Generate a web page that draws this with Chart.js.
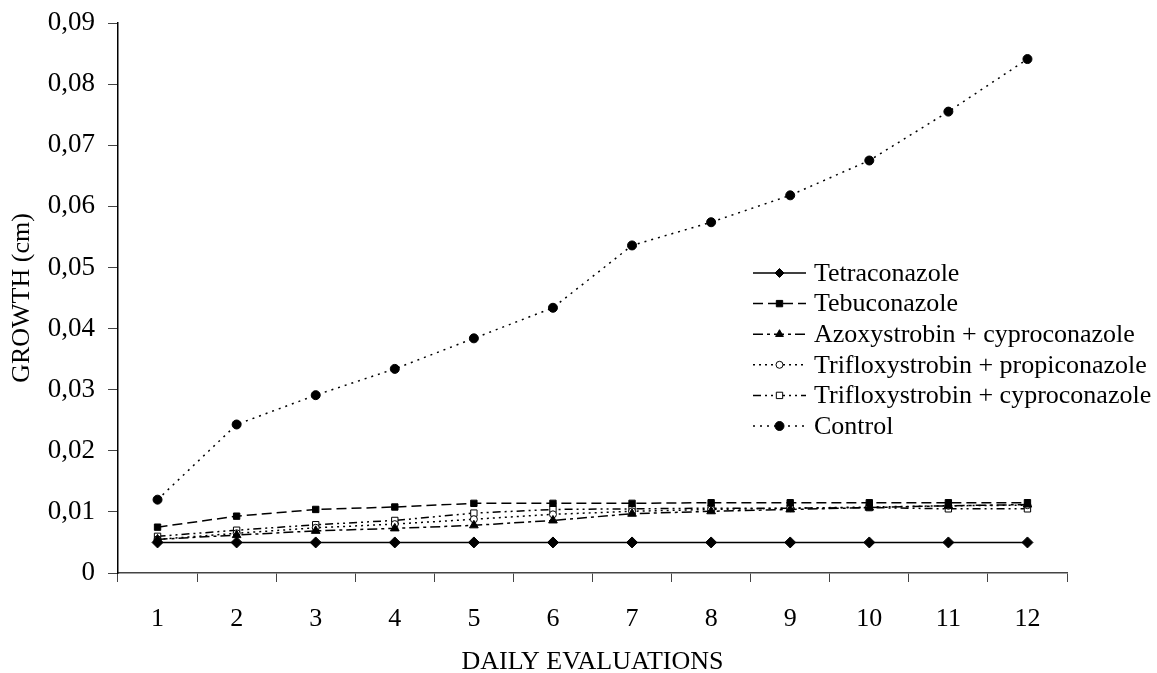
<!DOCTYPE html>
<html>
<head>
<meta charset="utf-8">
<script src="https://cdn.jsdelivr.net/npm/chart.js@4/dist/chart.umd.min.js"></script>
<style>
  html, body { margin: 0; padding: 0; background: #fff; }
  #wrap { width: 1157px; height: 673px; position: relative; }
</style>
</head>
<body>
<div id="wrap"><canvas id="growthChart"></canvas></div>
<script>
// Data
const days = ['1', '2', '3', '4', '5', '6', '7', '8', '9', '10', '11', '12'];
const seriesNames = [
  'Tetraconazole',
  'Tebuconazole',
  'Azoxystrobin + cyproconazole',
  'Trifloxystrobin + propiconazole',
  'Trifloxystrobin + cyproconazole',
  'Control'
];
const tetraconazole = [0.005, 0.005, 0.005, 0.005, 0.005, 0.005, 0.005, 0.005, 0.005, 0.005, 0.005, 0.005];
const tebuconazole = [0.0075, 0.0093, 0.0104, 0.0108, 0.0114, 0.0114, 0.0114, 0.0115, 0.0115, 0.0115, 0.0115, 0.0115];
const azoxyCypro = [0.0055, 0.0062, 0.0069, 0.0073, 0.0078, 0.0086, 0.0097, 0.0101, 0.0104, 0.0107, 0.0110, 0.0112];
const trifloxyPropi = [0.0055, 0.0065, 0.0074, 0.0080, 0.0088, 0.0096, 0.0101, 0.0104, 0.0106, 0.0108, 0.0110, 0.0111];
const trifloxyCypro = [0.0060, 0.0070, 0.0079, 0.0086, 0.0098, 0.0104, 0.0105, 0.0106, 0.0106, 0.0107, 0.0105, 0.0105];
const control = [0.0120, 0.0243, 0.0291, 0.0334, 0.0384, 0.0434, 0.0536, 0.0574, 0.0618, 0.0675, 0.0755, 0.0841];
const yTicks = [0, 0.01, 0.02, 0.03, 0.04, 0.05, 0.06, 0.07, 0.08, 0.09];

const FONT = '"Liberation Serif", "Times New Roman", serif';

function makeSet(label, data, dash, style, radius, filled) {
  return {
    label: label,
    data: data,
    borderColor: '#000',
    borderWidth: 1.5,
    borderDash: dash,
    pointStyle: style,
    pointRadius: radius,
    pointBorderColor: '#000',
    pointBorderWidth: 1,
    pointBackgroundColor: filled ? '#000' : '#fff',
    tension: 0,
    fill: false
  };
}

const datasets = [
  makeSet(seriesNames[0], tetraconazole, [], 'rectRot', 5.5, true),
  makeSet(seriesNames[1], tebuconazole, [10, 5], 'rect', 4.5, true),
  makeSet(seriesNames[2], azoxyCypro, [10, 4, 3, 4], 'triangle', 5, true),
  makeSet(seriesNames[3], trifloxyPropi, [2, 4], 'circle', 3.5, false),
  makeSet(seriesNames[4], trifloxyCypro, [8, 4, 2, 4, 2, 4], 'rect', 4.5, false),
  makeSet(seriesNames[5], control, [2, 5], 'circle', 4.5, true)
];

// legend drawn inside the plot area
const insideLegend = {
  id: 'insideLegend',
  afterDraw(chart) {
    const ctx = chart.ctx;
    const x0 = 753, x1 = 806, textX = 814;
    let y = 273;
    ctx.save();
    ctx.font = '26px ' + FONT;
    ctx.textBaseline = 'middle';
    ctx.textAlign = 'left';
    chart.data.datasets.forEach((ds) => {
      ctx.strokeStyle = '#000';
      ctx.lineWidth = 1.5;
      ctx.setLineDash(ds.borderDash);
      ctx.beginPath();
      ctx.moveTo(x0, y);
      ctx.lineTo(x1, y);
      ctx.stroke();
      ctx.setLineDash([]);
      ctx.fillStyle = ds.pointBackgroundColor;
      ctx.strokeStyle = '#000';
      ctx.lineWidth = 1;
      Chart.helpers.drawPoint(ctx, {
        pointStyle: ds.pointStyle,
        radius: Math.min(ds.pointRadius, 4.5),
        rotation: 0,
        borderWidth: 1
      }, (x0 + x1) / 2, y);
      ctx.fillStyle = '#000';
      ctx.fillText(ds.label, textX, y + 1);
      y += 30.6;
    });
    ctx.restore();
  }
};

new Chart(document.getElementById('growthChart'), {
  type: 'line',
  data: { labels: days, datasets: datasets },
  plugins: [insideLegend],
  options: {
    responsive: true,
    maintainAspectRatio: false,
    animation: false,
    layout: { padding: { top: 23, right: 90, left: 0, bottom: 0 } },
    plugins: {
      legend: { display: false },
      tooltip: { enabled: false }
    },
    scales: {
      x: {
        offset: true,
        afterFit: (scale) => { scale.height = 100; },
        border: { color: '#444', width: 1.5 },
        grid: { drawOnChartArea: false, offset: true, tickLength: 9, color: '#444', lineWidth: 1 },
        ticks: { color: '#000', font: { family: FONT, size: 26 }, padding: 22, maxRotation: 0 },
        title: {
          display: true,
          text: 'DAILY EVALUATIONS',
          color: '#000',
          font: { family: FONT, size: 26, lineHeight: 0.8 },
          padding: { top: 0, bottom: 0 }
        }
      },
      y: {
        min: 0,
        max: 0.09,
        afterFit: (scale) => { scale.width = 118; scale.paddingTop = 0; scale.paddingBottom = 0; },
        afterBuildTicks: (scale) => { scale.ticks = yTicks.map(v => ({ value: v })); },
        border: { color: '#000', width: 1.5 },
        grid: { drawOnChartArea: false, tickLength: 10, color: '#444', lineWidth: 1 },
        ticks: {
          color: '#000',
          font: { family: FONT, size: 27, lineHeight: 0.8 },
          padding: 13,
          callback: (v) => v === 0 ? '0' : v.toFixed(2).replace('.', ',')
        },
        title: {
          display: true,
          text: 'GROWTH (cm)',
          color: '#000',
          font: { family: FONT, size: 26, lineHeight: 1.2 },
          padding: { top: 7, bottom: 0 }
        }
      }
    }
  }
});
</script>
</body>
</html>
